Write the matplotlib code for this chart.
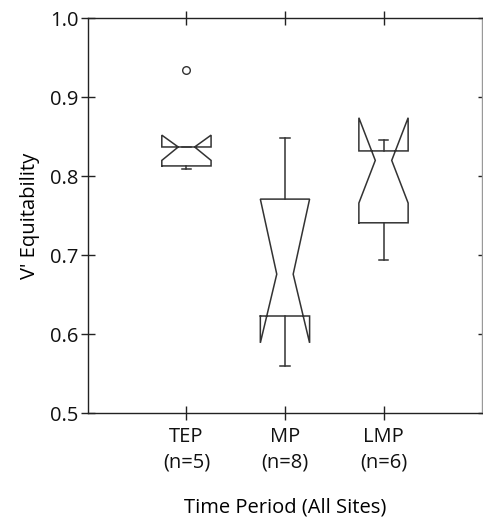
import matplotlib
matplotlib.use("Agg")
import matplotlib.pyplot as plt

plt.rcParams['font.family'] = ['Open Sans', 'DejaVu Sans']

# Data
periods = ["TEP", "MP", "LMP"]
counts = [5, 8, 6]
medians = [0.837, 0.676, 0.820]
q1s = [0.813, 0.623, 0.741]
q3s = [0.837, 0.771, 0.832]
cilos = [0.820, 0.589, 0.766]
cihis = [0.852, 0.771, 0.874]
whislos = [0.809, 0.560, 0.694]
whishis = [0.837, 0.848, 0.846]
fliers = [[0.934], [], []]

y_ticks = [0.5, 0.6, 0.7, 0.8, 0.9, 1.0]

fig = plt.figure(figsize=(4.83, 5.21), dpi=100)
ax = fig.add_axes([0.182, 0.207, 0.816, 0.758])

color = '#333333'
w = 0.5
cap = 0.1
positions = [1, 2, 3]
for p, med, q1, q3, clo, chi, wlo, whi, fl in zip(positions, medians, q1s, q3s,
                                                   cilos, cihis, whislos, whishis, fliers):
    L, R = p - w / 2, p + w / 2
    nL, nR = p - w / 6, p + w / 6
    xs = [L, R, R, nR, R, R, L, L, nL, L, L]
    ys = [q1, q1, clo, med, chi, q3, q3, chi, med, clo, q1]
    ax.plot(xs, ys, color=color, lw=1.1, solid_joinstyle='miter')
    ax.plot([p, p], [q1, wlo], color=color, lw=1.1)
    ax.plot([p, p], [q3, whi], color=color, lw=1.1)
    ax.plot([p - cap / 2, p + cap / 2], [wlo, wlo], color=color, lw=1.1)
    ax.plot([p - cap / 2, p + cap / 2], [whi, whi], color=color, lw=1.1)
    if fl:
        ax.plot([p] * len(fl), fl, 'o', mfc='none', mec=color, ms=5.5, mew=1.0)

ax.set_xlim(0, 4)
ax.set_ylim(0.5, 1.0)
ax.set_xticks(positions)
ax.set_xticklabels([f"{n}\n(n={c})" for n, c in zip(periods, counts)],
                   linespacing=1.35)
ax.set_yticks(y_ticks)
ax.set_yticklabels([f"{v:.1f}" for v in y_ticks])
ax.tick_params(axis='both', labelsize=14.5, direction='inout', length=10, width=1,
               color='#222222', labelcolor='#111111')
ax.tick_params(axis='x', pad=5)
ax.tick_params(axis='y', pad=2)
ax.tick_params(top=True, right=True, labeltop=False, labelright=False)

for s in ['left', 'bottom', 'top']:
    ax.spines[s].set_color('#222222')
    ax.spines[s].set_linewidth(1.0)
ax.spines['right'].set_color('#999999')
ax.spines['right'].set_linewidth(1.0)

# right ticks inward only
for t in ax.yaxis.get_major_ticks():
    t.tick2line.set_markersize(6)
    t.tick2line.set_color('#555555')

ax.set_ylabel("V' Equitability", fontsize=14.5, labelpad=7)
ax.set_xlabel("Time Period (All Sites)", fontsize=14.5, labelpad=18)

fig.savefig("out.png", dpi=100)
